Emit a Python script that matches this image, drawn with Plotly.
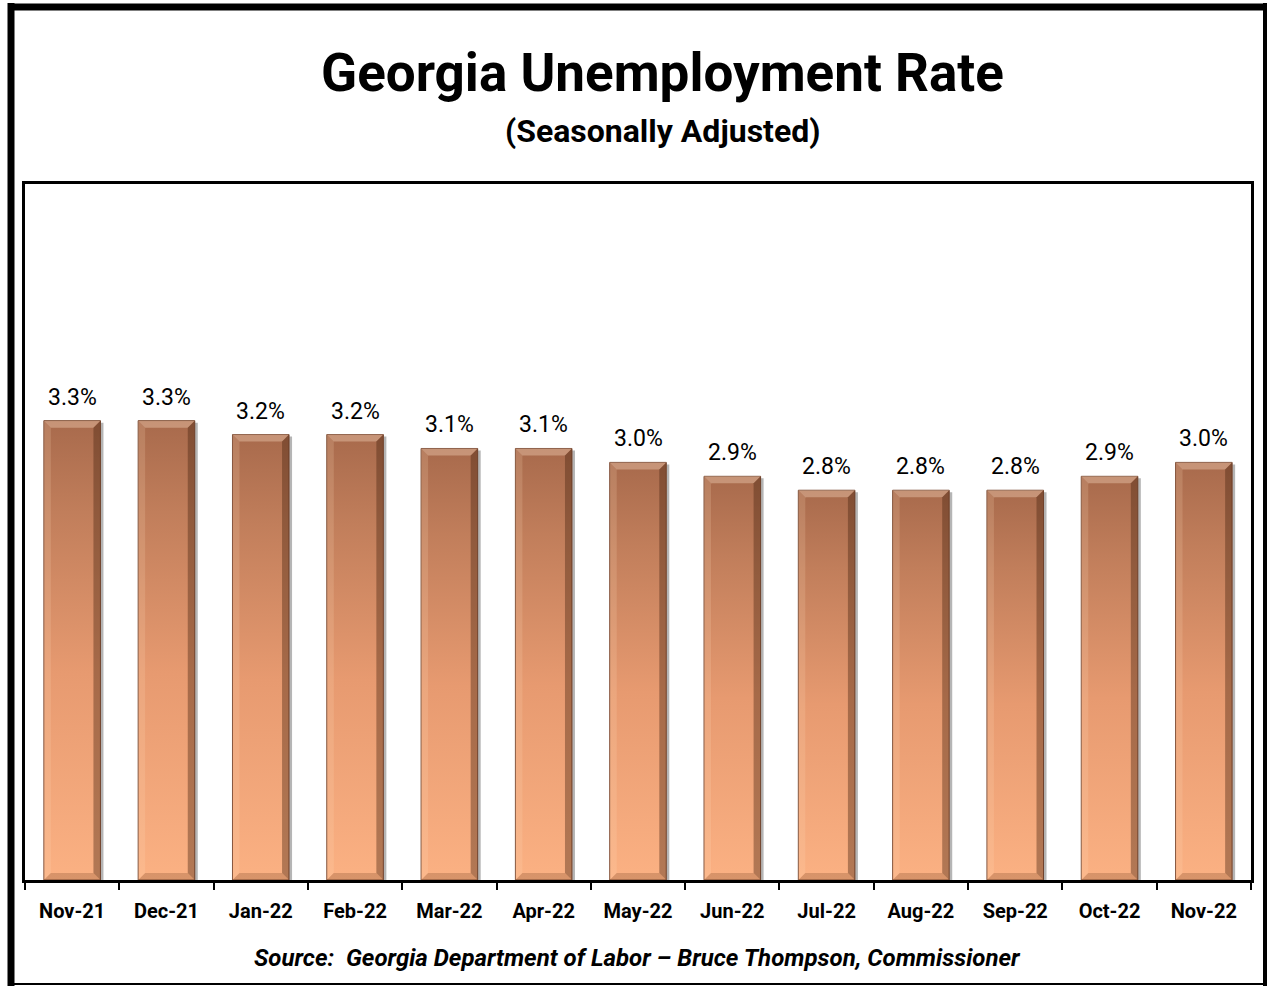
import plotly.graph_objects as go

# Georgia unemployment rate, seasonally adjusted (percent)
months = ["Nov-21", "Dec-21", "Jan-22", "Feb-22", "Mar-22", "Apr-22", "May-22",
          "Jun-22", "Jul-22", "Aug-22", "Sep-22", "Oct-22", "Nov-22"]
rates = [3.3, 3.3, 3.2, 3.2, 3.1, 3.1, 3.0, 2.9, 2.8, 2.8, 2.8, 2.9, 3.0]

W, H = 1267, 986
FONT = "Roboto, Liberation Sans, sans-serif"

# plot area in pixels
PX0, PX1 = 25, 1251
PY_TOP, PY_BOT = 184, 880
Y_MAX = 5.0
n = len(months)
px_per_x = (PX1 - PX0) / n
px_per_y = (PY_BOT - PY_TOP) / Y_MAX

HALF = 0.30                      # half bar width in category units
BEV_X = 7 / px_per_x             # bevel thickness
BEV_Y = 7 / px_per_y

copper = [[0.0, "#FBB183"], [0.45, "#E79A70"], [0.8, "#C17E5B"], [1.0, "#A86A4C"]]

fig = go.Figure()

for i, v in enumerate(rates):
    x0, x1 = i - HALF, i + HALF
    # drop shadow on the right
    fig.add_trace(go.Scatter(
        x=[x1, x1 + 3 / px_per_x, x1 + 3 / px_per_x, x1, x1],
        y=[0, 0, v - 2 / px_per_y, v - 2 / px_per_y, 0],
        fill="toself", fillcolor="rgba(120,120,120,0.55)",
        line=dict(width=0), mode="lines", hoverinfo="skip", showlegend=False))
    # bar body with vertical copper gradient
    fig.add_trace(go.Scatter(
        x=[x0, x1, x1, x0, x0], y=[0, 0, v, v, 0],
        fill="toself", mode="lines",
        fillgradient=dict(type="vertical", colorscale=copper, start=0, stop=v),
        line=dict(width=1, color="#7A4A33"),
        hoverinfo="skip", showlegend=False))
    # top bevel (light)
    fig.add_trace(go.Scatter(
        x=[x0, x1, x1 - BEV_X, x0 + BEV_X, x0],
        y=[v, v, v - BEV_Y, v - BEV_Y, v],
        fill="toself", fillcolor="rgba(255,225,200,0.35)",
        line=dict(width=0), mode="lines", hoverinfo="skip", showlegend=False))
    # left bevel (light)
    fig.add_trace(go.Scatter(
        x=[x0, x0 + BEV_X, x0 + BEV_X, x0, x0],
        y=[v, v - BEV_Y, BEV_Y, 0, v],
        fill="toself", fillcolor="rgba(255,220,190,0.18)",
        line=dict(width=0), mode="lines", hoverinfo="skip", showlegend=False))
    # right bevel (dark)
    fig.add_trace(go.Scatter(
        x=[x1, x1 - BEV_X, x1 - BEV_X, x1, x1],
        y=[v, v - BEV_Y, BEV_Y, 0, v],
        fill="toself", fillcolor="rgba(70,35,15,0.40)",
        line=dict(width=0), mode="lines", hoverinfo="skip", showlegend=False))
    # bottom bevel (dark)
    fig.add_trace(go.Scatter(
        x=[x0, x1, x1 - BEV_X, x0 + BEV_X, x0],
        y=[0, 0, BEV_Y, BEV_Y, 0],
        fill="toself", fillcolor="rgba(90,45,20,0.22)",
        line=dict(width=0), mode="lines", hoverinfo="skip", showlegend=False))
    # value label
    fig.add_annotation(x=i, y=v, text=f"{v:.1f}%", showarrow=False,
                       yanchor="bottom", yshift=8,
                       font=dict(family=FONT, size=23, color="#000000"))

fig.update_xaxes(
    range=[-0.5, n - 0.5], tickvals=list(range(n)), ticktext=months,
    ticks="", showgrid=False, zeroline=False,
    showline=True, linecolor="#000000", linewidth=3, mirror=True,
    tickfont=dict(family=FONT, size=20, color="#000000", weight="bold"),
    ticklabelstandoff=11,
    minor=dict(tickvals=[k - 0.5 for k in range(n + 1)], ticks="outside",
               ticklen=7, tickwidth=1.5, tickcolor="#000000", showgrid=False),
    fixedrange=True,
)
fig.update_yaxes(
    range=[0, Y_MAX], showticklabels=False, ticks="", showgrid=False,
    zeroline=False, showline=True, linecolor="#000000", linewidth=3,
    mirror=True, fixedrange=True,
)

fig.update_layout(
    width=W, height=H,
    margin=dict(l=PX0, r=W - PX1, t=PY_TOP, b=H - PY_BOT),
    paper_bgcolor="#FFFFFF", plot_bgcolor="#FFFFFF",
    showlegend=False,
)

# chart title and subtitle
fig.add_annotation(xref="paper", yref="paper", x=(662 - PX0) / (PX1 - PX0),
                   y=1 + (PY_TOP - 73) / (PY_BOT - PY_TOP),
                   text="<b>Georgia Unemployment Rate</b>", showarrow=False,
                   xanchor="center", yanchor="middle",
                   font=dict(family=FONT, size=53, color="#000000"))
fig.add_annotation(xref="paper", yref="paper", x=(662 - PX0) / (PX1 - PX0),
                   y=1 + (PY_TOP - 131) / (PY_BOT - PY_TOP),
                   text="<b>(Seasonally Adjusted)</b>", showarrow=False,
                   xanchor="center", yanchor="middle",
                   font=dict(family=FONT, size=32, color="#000000"))
# source line
fig.add_annotation(xref="paper", yref="paper", x=(637 - PX0) / (PX1 - PX0),
                   y=-(958 - PY_BOT) / (PY_BOT - PY_TOP),
                   text="<b><i>Source:\u00a0 Georgia Department of Labor \u2013 Bruce Thompson, Commissioner</i></b>",
                   showarrow=False, xanchor="center", yanchor="middle",
                   font=dict(family=FONT, size=24, color="#000000"))

# outer frame
frame = [
    dict(x0=11, y0=3, x1=11, y1=986, w=7),     # left
    dict(x0=8, y0=7, x1=1267, y1=7, w=7),      # top
    dict(x0=1265, y0=3, x1=1265, y1=986, w=4), # right
    dict(x0=8, y0=984, x1=1267, y1=984, w=2),  # bottom
]
for f in frame:
    fig.add_shape(type="line", xref="paper", yref="paper",
                  x0=(f["x0"] - PX0) / (PX1 - PX0), x1=(f["x1"] - PX0) / (PX1 - PX0),
                  y0=(PY_BOT - f["y0"]) / (PY_BOT - PY_TOP),
                  y1=(PY_BOT - f["y1"]) / (PY_BOT - PY_TOP),
                  line=dict(color="#000000", width=f["w"]), layer="above")

fig.write_html("out.html", config={"displayModeBar": False})
